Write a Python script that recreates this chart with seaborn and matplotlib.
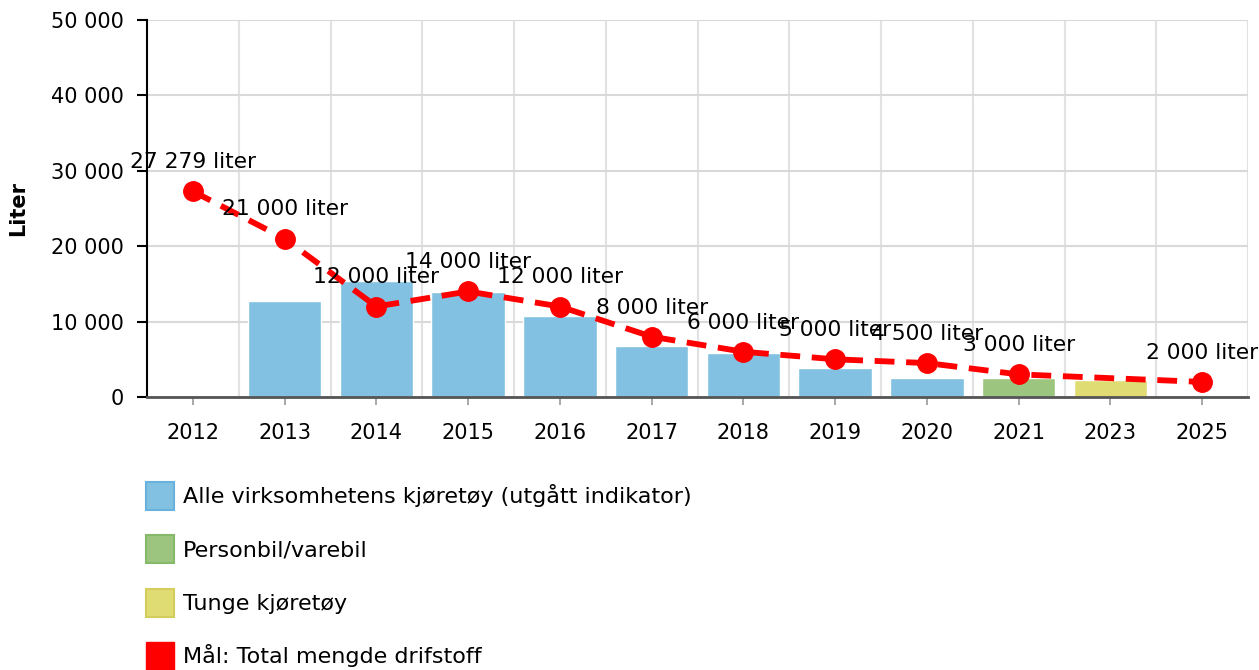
import numpy as np
import pandas as pd
import matplotlib
matplotlib.use("Agg")
import matplotlib.pyplot as plt
from matplotlib.patches import Patch
from matplotlib.ticker import FuncFormatter
import seaborn as sns

# ===== Data =====
years = ["2012", "2013", "2014", "2015", "2016", "2017", "2018",
         "2019", "2020", "2021", "2023", "2025"]
alle = [np.nan, 12700, 15400, 13900, 10700, 6800, 5850, 3850, 2500,
        np.nan, np.nan, np.nan]
personbil = [np.nan] * 9 + [2500, np.nan, np.nan]
tunge = [np.nan] * 10 + [2200, np.nan]
maal = [27279, 21000, 12000, 14000, 12000, 8000, 6000, 5000, 4500,
        3000, np.nan, 2000]
maal_labels = ["27 279 liter", "21 000 liter", "12 000 liter", "14 000 liter",
               "12 000 liter", "8 000 liter", "6 000 liter", "5 000 liter",
               "4 500 liter", "3 000 liter", "", "2 000 liter"]

series_names = ["Alle virksomhetens kjøretøy (utgått indikator)",
                "Personbil/varebil", "Tunge kjøretøy"]
colors = {"Alle virksomhetens kjøretøy (utgått indikator)": "#82c1e1",
          "Personbil/varebil": "#9cc67f",
          "Tunge kjøretøy": "#e0dc74"}
edge_colors = ["#6ab2dc", "#86b86a", "#d2cd5c"]
line_name = "Mål: Total mengde drifstoff"
red = "#ff0000"

bars = pd.DataFrame({
    "year": years * 3,
    "value": alle + personbil + tunge,
    "serie": [s for s in series_names for _ in years],
})

sns.set_style("white")
plt.rcParams["font.family"] = ["DejaVu Sans"]
plt.rcParams["text.color"] = "black"
plt.rcParams["xtick.color"] = "black"
plt.rcParams["ytick.color"] = "black"
plt.rcParams["axes.labelcolor"] = "black"

fig = plt.figure(figsize=(12.59, 6.70), dpi=100)
ax = fig.add_axes([147 / 1259, 1 - 397 / 670, 1101 / 1259, 377 / 670])

# ===== Bars =====
sns.barplot(data=bars, x="year", y="value", hue="serie", order=years,
            hue_order=series_names, palette=colors, dodge=False,
            width=0.8, saturation=1, legend=False, ax=ax, zorder=2)

# ===== Target line =====
pos = np.arange(len(years))
line_df = pd.DataFrame({"x": pos, "y": maal}).dropna()
ax.plot(line_df["x"], line_df["y"], color=red, lw=4.2,
        dashes=(3.4, 2.0), zorder=3)
ax.plot(line_df["x"], line_df["y"], color=red, lw=0, marker="o",
        markersize=14, zorder=4)
for x, y, lab in zip(pos, maal, maal_labels):
    if lab:
        ax.annotate(lab, (x, y), xytext=(0, 21), textcoords="offset points",
                    ha="center", va="center", fontsize=15.7, zorder=5)

# ===== Axes styling =====
ax.set_xlim(-0.5, len(years) - 0.5)
ax.set_ylim(0, 50000)
ax.set_yticks(range(0, 50001, 10000))
ax.yaxis.set_major_formatter(FuncFormatter(lambda v, p: f"{int(v):,}".replace(",", " ")))
ax.set_xticks(pos)
ax.set_xticklabels(years)
ax.set_xticks(np.arange(-0.5, len(years), 1.0), minor=True)

ax.grid(axis="y", which="major", color="#d9d9d9", lw=1.5, zorder=0)
ax.grid(axis="x", which="minor", color="#e2e2e2", lw=1.5, zorder=0)
ax.set_axisbelow(True)

for side in ["top", "right"]:
    ax.spines[side].set_visible(False)
ax.spines["left"].set_color("black")
ax.spines["left"].set_linewidth(1.5)
ax.spines["bottom"].set_color("#555555")
ax.spines["bottom"].set_linewidth(2)

ax.tick_params(axis="y", which="major", length=7, width=1.5, color="black",
               pad=10, labelsize=15, left=True)
ax.tick_params(axis="x", which="major", length=6, width=1.2, color="#999999",
               pad=13, labelsize=15, bottom=True)
ax.tick_params(axis="x", which="minor", length=0)

ax.set_xlabel("")
ax.set_ylabel("Liter", fontsize=15, fontweight="bold")
ax.yaxis.set_label_coords(-0.108, 0.5)

# ===== Legend =====
handles = [Patch(facecolor=colors[s], edgecolor=e, lw=1.5)
           for s, e in zip(series_names, edge_colors)]
handles.append(Patch(facecolor=red, edgecolor=red))
labels = series_names + [line_name]
fig.legend(handles, labels, loc="upper left",
           bbox_to_anchor=(146 / 1259, 1 - 482 / 670), frameon=False,
           fontsize=16, handlelength=1.25, handleheight=1.55,
           handletextpad=0.4, labelspacing=1.15, borderpad=0, borderaxespad=0)

fig.savefig("out.png", dpi=100)
plt.close(fig)
print("done")
